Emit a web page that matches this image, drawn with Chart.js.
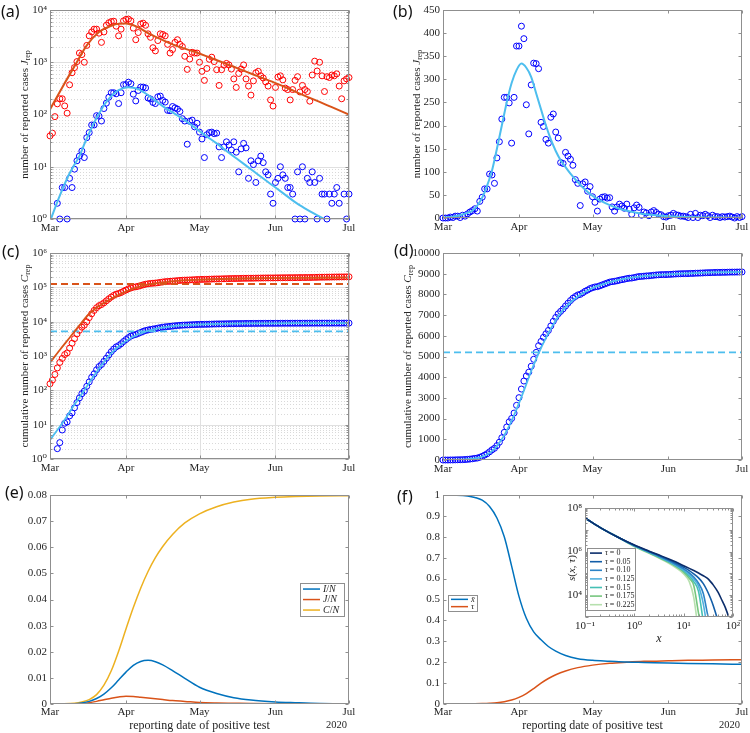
<!DOCTYPE html>
<html>
<head>
<meta charset="utf-8">
<script src="https://cdn.jsdelivr.net/npm/chart.js@4.4.1/dist/chart.umd.min.js"></script>
<style>
  body { margin: 0; background: #fff; width: 750px; height: 733px; position: relative; overflow: hidden; }
  canvas { position: absolute; }
  .tag { position: absolute; font: 16px 'Noto Sans', 'Open Sans', sans-serif; line-height: 16px; color: #111; }
</style>
</head>
<body>
<canvas id="pa" width="375" height="240" style="left:0;top:0"></canvas>
<canvas id="pb" width="375" height="240" style="left:375px;top:0"></canvas>
<canvas id="pc" width="375" height="240" style="left:0;top:240px"></canvas>
<canvas id="pd" width="375" height="240" style="left:375px;top:240px"></canvas>
<canvas id="pe" width="375" height="253" style="left:0;top:480px"></canvas>
<canvas id="pf" width="375" height="253" style="left:375px;top:480px"></canvas>
<canvas id="pin" width="195" height="150" style="left:545px;top:500px"></canvas>
<div class="tag" style="left:1px;top:3px">(a)</div>
<div class="tag" style="left:393px;top:3px">(b)</div>
<div class="tag" style="left:2px;top:243px">(c)</div>
<div class="tag" style="left:394px;top:242px">(d)</div>
<div class="tag" style="left:5px;top:484px">(e)</div>
<div class="tag" style="left:397px;top:488px">(f)</div>
<script>
// --- data (day 0 = 1 March 2020) ---
const monthTicks = [0, 31, 61, 92, 122];
const monthLabels = ['Mar', 'Apr', 'May', 'Jun', 'Jul'];
const days = Array.from({length: 123}, (_, i) => i);

const redDaily = [39, 44, 91, 160, 200, 200, 146, 106, 370, 630,
  790, 1030, 1500, 1400, 1000, 2100, 3200, 3800, 4300, 4300,
  3600, 2400, 3800, 5100, 5700, 6000, 6100, 4900, 3200, 4300,
  6200, 6600, 6700, 6200, 4500, 2700, 3700, 5400, 5600, 5100,
  3500, 3000, 1900, 1650, 2600, 3500, 3400, 3200, 2200, 1500,
  1750, 2400, 2700, 2200, 2000, 1300, 730, 1150, 1550, 1500,
  1500, 1000, 670, 450, 760, 1140, 1250, 1030, 720, 360,
  720, 880, 950, 890, 740, 480, 330, 610, 740, 890,
  480, 350, 235, 440, 630, 670, 550, 500, 420, 350,
  190, 145, 330, 520, 550, 460, 320, 300, 190, 300,
  450, 530, 270, 360, 300, 275, 180, 570, 1050, 680,
  1000, 550, 275, 530, 510, 570, 550, 600, 350, 200,
  440, 480, 510];

const blueDaily = [0, 0, 0, 2, 1, 4, 4, 1, 6, 4,
  9, 13, 16, 20, 15, 36, 45, 63, 63, 95,
  93, 75, 130, 165, 214, 261, 261, 249, 162, 261,
  372, 372, 415, 388, 245, 182, 288, 335, 334, 323,
  207, 198, 170, 162, 218, 225, 186, 173, 120, 118,
  142, 134, 127, 114, 83, 75, 27, 74, 78, 58,
  68, 46, 34, 15, 41, 45, 46, 43, 44, 24,
  15, 24, 30, 26, 21, 30, 19, 8, 22, 28,
  23, 6, 13, 11, 5, 13, 16, 12, 8, 7,
  3, 2, 5, 6, 10, 7, 6, 4, 4, 3,
  1, 8, 1, 10, 1, 6, 5, 8, 5, 1,
  6, 3, 3, 1, 3, 2, 3, 4, 2, 0,
  3, 1, 3];

const redCum = [155, 199, 290, 450, 650, 850, 1100, 1230, 1700, 2350,
  3200, 4400, 5600, 6900, 7900, 9922, 13122, 16922, 21222, 25522,
  29122, 31522, 35322, 40422, 46122, 52122, 58222, 63122, 66322, 70622,
  76822, 83422, 90122, 96322, 100822, 103522, 107222, 112622, 118222, 123322,
  126822, 129822, 131722, 133372, 135972, 139472, 142872, 146072, 148272, 149772,
  151522, 153922, 156622, 158822, 160822, 162122, 162852, 164002, 165552, 167052,
  168552, 169552, 170222, 170672, 171432, 172572, 173822, 174852, 175572, 175932,
  176652, 177532, 178482, 179372, 180112, 180592, 180922, 181532, 182272, 183162,
  183642, 183992, 184227, 184667, 185297, 185967, 186517, 187017, 187437, 187787,
  187977, 188122, 188452, 188972, 189522, 189982, 190302, 190602, 190792, 191092,
  191542, 192072, 192342, 192702, 193002, 193277, 193457, 194027, 195077, 195757,
  196757, 197307, 197582, 198112, 198622, 199192, 199742, 200342, 200692, 200892,
  201332, 201812, 202322];

const blueCum = [0, 0, 0, 2, 3, 7, 11, 12, 18, 22,
  31, 44, 60, 80, 95, 131, 176, 239, 302, 397,
  490, 565, 695, 860, 1074, 1335, 1596, 1845, 2007, 2268,
  2640, 3012, 3427, 3815, 4060, 4242, 4530, 4865, 5199, 5522,
  5729, 5927, 6097, 6259, 6477, 6702, 6888, 7061, 7181, 7299,
  7441, 7575, 7702, 7816, 7899, 7974, 8001, 8075, 8153, 8211,
  8279, 8325, 8359, 8374, 8415, 8460, 8506, 8549, 8593, 8617,
  8632, 8656, 8686, 8712, 8733, 8763, 8782, 8790, 8812, 8840,
  8863, 8869, 8882, 8893, 8898, 8911, 8927, 8939, 8947, 8954,
  8957, 8959, 8964, 8970, 8980, 8987, 8993, 8997, 9001, 9004,
  9005, 9013, 9014, 9024, 9025, 9031, 9036, 9044, 9049, 9050,
  9056, 9059, 9062, 9063, 9066, 9068, 9071, 9075, 9077, 9077,
  9080, 9081, 9084];

const redFitDays = [0, 5, 10, 15, 20, 25, 28, 31, 34, 37, 40, 45, 50, 55, 60, 65, 70, 75, 80, 85, 90, 95, 100, 105, 110, 115, 122];
const redFit = [125, 330, 840, 2100, 3800, 5000, 5450, 5500, 5100, 4400, 3600, 2800, 2200, 1820, 1520, 1240, 1010, 820, 660, 537, 434, 350, 275, 218, 174, 138, 100];

const blueFitDays = [0, 4, 8, 10, 12, 14, 16, 18, 20, 22, 24, 26, 28, 30, 32, 34, 36, 38, 40, 42, 44, 46, 48, 50, 52, 56, 60, 64, 68, 72, 76, 80, 84, 88, 92, 96, 100, 104, 108, 112, 116, 122];
const blueFit = [0.9, 2.8, 7.5, 11, 16, 27, 44, 70, 103, 150, 200, 250, 292, 320, 334, 325, 305, 270, 235, 200, 170, 145, 125, 110, 96, 72, 52, 38, 28, 20, 14.5, 10.5, 7.6, 5.5, 4.0, 2.9, 2.1, 1.6, 1.25, 1.0, 0.75, 0.5];

const redCumFitDays = [0, 4, 8, 12, 16, 18, 20, 22, 24, 26, 28, 30, 32, 34, 36, 40, 45, 50, 55, 60, 70, 80, 90, 100, 110, 122];
const redCumFit = [640, 1500, 3400, 7800, 17000, 22500, 28500, 35000, 42500, 51000, 60000, 70000, 81000, 92000, 102000, 120000, 137000, 150000, 159000, 166000, 175000, 181000, 185000, 188000, 190000, 192000];

const blueCumFitDays = [0, 3, 6, 9, 12, 15, 18, 21, 24, 27, 30, 33, 36, 39, 42, 45, 48, 51, 55, 60, 65, 70, 75, 80, 90, 100, 110, 122];
const blueCumFit = [3.6, 7, 14, 30, 62, 130, 270, 540, 1000, 1650, 2450, 3350, 4300, 5150, 5900, 6550, 7100, 7500, 7900, 8250, 8480, 8650, 8770, 8860, 8960, 9020, 9060, 9090];

const redLevel = 125000;
const blueLevel = 5200;

const modelDays = [0, 5, 10, 13, 16, 19, 22, 25, 28, 31, 34, 37, 40, 43, 46, 50, 55, 61, 68, 75, 82, 92, 100, 110, 122];
const infectedShare = [0, 0.00003, 0.0001, 0.0004, 0.001, 0.0021, 0.0038, 0.0062, 0.0092, 0.0122, 0.0148, 0.0163, 0.0167, 0.0162, 0.015, 0.0128, 0.0098, 0.0064, 0.004, 0.0024, 0.0015, 0.0008, 0.0005, 0.0002, 0.0001];
const reportedShare = [0, 0.00001, 0.00005, 0.0002, 0.0005, 0.001, 0.0016, 0.0022, 0.0027, 0.003, 0.0029, 0.0026, 0.0023, 0.002, 0.0017, 0.0013, 0.001, 0.0006, 0.0004, 0.0003, 0.0002, 0.0001, 0.00007, 0.00004, 0.00002];
const cumulativeShare = [0, 0.00005, 0.0003, 0.0008, 0.0017, 0.0036, 0.0072, 0.0127, 0.0202, 0.0287, 0.0369, 0.0443, 0.0507, 0.056, 0.0603, 0.0649, 0.0693, 0.0728, 0.0755, 0.0773, 0.0784, 0.0791, 0.0794, 0.0796, 0.0797];
const xbar = [1, 0.999, 0.995, 0.988, 0.975, 0.945, 0.89, 0.8, 0.66, 0.515, 0.41, 0.345, 0.307, 0.275, 0.253, 0.232, 0.217, 0.209, 0.205, 0.201, 0.199, 0.196, 0.194, 0.192, 0.19];
const tau = [0, 0, 0.0003, 0.001, 0.002, 0.0035, 0.006, 0.011, 0.019, 0.032, 0.05, 0.074, 0.1, 0.122, 0.14, 0.158, 0.174, 0.186, 0.195, 0.2, 0.204, 0.207, 0.209, 0.21, 0.212];

// inset: s(x, tau)
const insetX = [0.1, 0.2, 0.5, 1, 2, 3, 5, 7, 10, 13, 16, 20, 25, 30, 35, 40, 50, 60, 70, 85, 100];
const tauLabels = ['0', '0.05', '0.10', '0.125', '0.15', '0.175', '0.225'];
const sTau0 = [3.5e7, 1.3e7, 4.2e6, 2.0e6, 1.05e6, 7.3e5, 4.6e5, 3.3e5, 2.25e5, 1.7e5, 1.35e5, 1.05e5, 7.8e4, 6.0e4, 4.2e4, 2.9e4, 1.35e4, 5.7e3, 2.7e3, 750, 180];
const sTau005 = [3.5e7, 1.3e7, 4.2e6, 1.95e6, 1.0e6, 6.9e5, 4.2e5, 2.9e5, 1.9e5, 1.35e5, 9.5e4, 6.2e4, 3.4e4, 1.6e4, 7.2e3, 3.2e3, 600, 100, null, null, null];
const sTau010 = [3.5e7, 1.3e7, 4.2e6, 1.9e6, 9.6e5, 6.5e5, 3.8e5, 2.55e5, 1.6e5, 1.05e5, 6.8e4, 3.6e4, 1.2e4, 1.6e3, 300, null, null, null, null, null, null];
const sTau0125 = [3.5e7, 1.3e7, 4.2e6, 1.85e6, 9.3e5, 6.2e5, 3.6e5, 2.35e5, 1.45e5, 9e4, 5.5e4, 2.6e4, 4e3, 300, null, null, null, null, null, null, null];
const sTau015 = [3.5e7, 1.3e7, 4.2e6, 1.8e6, 9e5, 5.9e5, 3.4e5, 2.2e5, 1.3e5, 7.5e4, 4.2e4, 1.5e4, 600, null, null, null, null, null, null, null, null];
const sTau0175 = [3.5e7, 1.3e7, 4.2e6, 1.75e6, 8.7e5, 5.6e5, 3.2e5, 2.05e5, 1.15e5, 6e4, 2.8e4, 1.5e3, 100, null, null, null, null, null, null, null, null];
const sTau0225 = [3.5e7, 1.3e7, 4.2e6, 1.7e6, 8.3e5, 5.3e5, 2.9e5, 1.8e5, 9.5e4, 4.2e4, 8e3, 200, null, null, null, null, null, null, null, null, null];
const insetCurves = [sTau0, sTau005, sTau010, sTau0125, sTau015, sTau0175, sTau0225];
const insetColors = ['#0b2d6b', '#135ea8', '#2b83c6', '#52b0de', '#45c0b4', '#76c67e', '#b6e0ae'];

// --- styles ---
const ink = '#262626';
const frameGray = '#8f8f8f';
const serif = "'Liberation Serif', 'DejaVu Serif', serif";
const red = '#ff0000', blue = '#0000ff', orange = '#d95319', cyan = '#4dbeee', matBlue = '#0072bd', yellow = '#edb120';
const tickFont = {family: serif, size: 11};
const sup = {'-': '⁻', '0': '⁰', '1': '¹', '2': '²', '3': '³', '4': '⁴', '5': '⁵', '6': '⁶', '7': '⁷', '8': '⁸', '9': '⁹'};
const pow10 = e => '10' + String(e).split('').map(c => sup[c]).join('');

function f(size, style) { return (style ? style + ' ' : '') + size + "px " + serif; }

function drawRich(ctx, parts, x, y, align) {
  let w = 0;
  for (const p of parts) { ctx.font = p.font; w += ctx.measureText(p.text).width; }
  let cx = align === 'center' ? x - w / 2 : x;
  ctx.textAlign = 'left';
  ctx.textBaseline = 'middle';
  for (const p of parts) {
    ctx.font = p.font;
    ctx.fillText(p.text, cx, y + (p.dy || 0));
    cx += ctx.measureText(p.text).width;
  }
}

function logMinors(s) {
  const out = [];
  for (let e = Math.floor(Math.log10(s.min)); e < Math.round(Math.log10(s.max)); e++) {
    for (let m = 2; m <= 9; m++) out.push(m * Math.pow(10, e));
  }
  return out;
}

// MATLAB-like box, inward ticks and optional grid
function frame(opt) {
  return {
    id: 'frame',
    beforeDatasetsDraw(chart) {
      if (!opt.grid) return;
      const {ctx, chartArea: a} = chart;
      const x = chart.scales.x, y = chart.scales.y;
      ctx.save();
      ctx.lineWidth = 1;
      ctx.strokeStyle = '#d9d9d9';
      ctx.setLineDash([1, 2]);
      for (const v of logMinors(y)) {
        const p = Math.round(y.getPixelForValue(v)) + 0.5;
        ctx.beginPath(); ctx.moveTo(a.left, p); ctx.lineTo(a.right, p); ctx.stroke();
      }
      ctx.setLineDash([]);
      ctx.strokeStyle = '#e0e0e0';
      for (const t of x.ticks) {
        const p = Math.round(x.getPixelForValue(t.value)) + 0.5;
        ctx.beginPath(); ctx.moveTo(p, a.top); ctx.lineTo(p, a.bottom); ctx.stroke();
      }
      for (const t of y.ticks) {
        const p = Math.round(y.getPixelForValue(t.value)) + 0.5;
        ctx.beginPath(); ctx.moveTo(a.left, p); ctx.lineTo(a.right, p); ctx.stroke();
      }
      ctx.restore();
    },
    afterDatasetsDraw(chart) {
      const {ctx, chartArea: a} = chart;
      const x = chart.scales.x, y = chart.scales.y;
      const L = Math.round(a.left) + 0.5, R = Math.round(a.right) - 0.5;
      const T = Math.round(a.top) + 0.5, B = Math.round(a.bottom) - 0.5;
      ctx.save();
      ctx.strokeStyle = frameGray;
      ctx.lineWidth = 1;
      ctx.strokeRect(L, T, R - L, B - T);
      ctx.beginPath();
      const xt = x.ticks.map(t => [t.value, 3]).concat(x.type === 'logarithmic' ? logMinors(x).map(v => [v, 2]) : []);
      const yt = y.ticks.map(t => [t.value, 3]).concat(y.type === 'logarithmic' ? logMinors(y).map(v => [v, 2]) : []);
      for (const [v, len] of xt) {
        const p = Math.round(x.getPixelForValue(v)) + 0.5;
        ctx.moveTo(p, B); ctx.lineTo(p, B - len);
        ctx.moveTo(p, T); ctx.lineTo(p, T + len);
      }
      for (const [v, len] of yt) {
        const p = Math.round(y.getPixelForValue(v)) + 0.5;
        ctx.moveTo(L, p); ctx.lineTo(L + len, p);
        ctx.moveTo(R, p); ctx.lineTo(R - len, p);
      }
      ctx.stroke();
      if (opt.year) {
        ctx.fillStyle = ink;
        ctx.font = f(10.5);
        ctx.textAlign = 'right';
        ctx.textBaseline = 'middle';
        ctx.fillText('2020', a.right - 2, a.bottom + 21);
      }
      ctx.restore();
    }
  };
}

function yTitle(x, parts, cy) {
  return {
    id: 'ytitle',
    afterDraw(chart) {
      const {ctx, chartArea: a} = chart;
      ctx.save();
      ctx.translate(x, cy === undefined ? (a.top + a.bottom) / 2 : cy);
      ctx.rotate(-Math.PI / 2);
      ctx.fillStyle = ink;
      drawRich(ctx, parts, 0, 0, 'center');
      ctx.restore();
    }
  };
}

function boxLegend(box, rows) {
  return {
    id: 'boxlegend',
    afterDraw(chart) {
      const ctx = chart.ctx;
      ctx.save();
      ctx.fillStyle = '#fff';
      ctx.fillRect(box.left, box.top, box.width, box.height);
      ctx.strokeStyle = frameGray;
      ctx.lineWidth = 1;
      ctx.strokeRect(box.left + 0.5, box.top + 0.5, box.width, box.height);
      rows.forEach((r, i) => {
        const ds = chart.data.datasets[r.index];
        const yy = box.top + box.pad + box.rowH * (i + 0.5);
        ctx.strokeStyle = ds.borderColor;
        ctx.lineWidth = ds.borderWidth;
        ctx.beginPath();
        ctx.moveTo(box.left + 3, yy); ctx.lineTo(box.left + 3 + box.lineLen, yy);
        ctx.stroke();
        ctx.fillStyle = ink;
        drawRich(ctx, r.parts, box.left + 6 + box.lineLen, yy, 'left');
      });
      ctx.restore();
    }
  };
}

function dots(xs, ys, color, log) {
  return {
    data: xs.map((x, i) => ({x: x, y: log && !(ys[i] > 0) ? null : ys[i]})),
    showLine: false,
    borderColor: color,
    pointBorderColor: color,
    pointBackgroundColor: 'rgba(0,0,0,0)',
    pointRadius: 3,
    pointBorderWidth: 1,
    clip: false
  };
}

function line(xs, ys, color, width, dash) {
  return {
    data: xs.map((x, i) => ({x: x, y: ys[i]})),
    borderColor: color,
    borderWidth: width,
    borderDash: dash || [],
    pointRadius: 0,
    cubicInterpolationMode: 'monotone',
    fill: false
  };
}

const noGrid = {display: false, drawTicks: false};

function dateAxis(height, title) {
  return {
    type: 'linear', min: monthTicks[0], max: monthTicks[monthTicks.length - 1],
    grid: noGrid, border: {display: false},
    afterBuildTicks: s => { s.ticks = monthTicks.map(v => ({value: v})); },
    afterFit: s => { s.height = height; s.paddingLeft = 0; s.paddingRight = 0; },
    ticks: {autoSkip: false, maxRotation: 0, padding: title ? 2 : 3, color: ink, font: tickFont,
      callback: (v, i) => monthLabels[i]},
    title: title
      ? {display: true, text: title, color: ink, font: {family: serif, size: 12}, padding: {top: 0, bottom: 0}}
      : {display: false}
  };
}

function logAxis(width, minExp, maxExp, every, horizontal, height) {
  const dec = [];
  for (let e = minExp; e <= maxExp; e++) dec.push(Math.pow(10, e));
  return {
    type: 'logarithmic', min: dec[0], max: dec[dec.length - 1],
    grid: noGrid, border: {display: false},
    afterBuildTicks: s => { s.ticks = dec.map(v => ({value: v})); },
    afterFit: s => {
      if (horizontal) { s.height = height; s.paddingLeft = 0; s.paddingRight = 0; }
      else { s.width = width; s.paddingTop = 0; s.paddingBottom = 0; }
    },
    ticks: {autoSkip: false, maxRotation: 0, padding: 3, color: ink, font: tickFont,
      callback: v => { const e = Math.round(Math.log10(v)); return (maxExp - e) % every === 0 ? pow10(e) : ''; }}
  };
}

function linAxis(width, max, step, fmt) {
  return {
    type: 'linear', min: 0, max: max,
    grid: noGrid, border: {display: false},
    afterFit: s => { s.width = width; s.paddingTop = 0; s.paddingBottom = 0; },
    ticks: {stepSize: step, autoSkip: false, padding: 3, color: ink, font: tickFont, callback: fmt}
  };
}

function options(pad, x, y) {
  return {
    animation: false, responsive: false, devicePixelRatio: 1, events: [],
    layout: {autoPadding: false, padding: {left: 0, bottom: 0, top: pad.top, right: pad.right}},
    plugins: {legend: {display: false}, tooltip: {enabled: false}},
    scales: {x: x, y: y}
  };
}

function repTitle(text, sym) {
  return [{text: text, font: f(11)}, {text: sym, font: f(11, 'italic')}, {text: 'rep', font: f(8), dy: 3}];
}

Chart.defaults.font.family = serif;

// (a) daily reported cases, log scale
new Chart(document.getElementById('pa'), {
  type: 'line',
  data: {datasets: [
    line(redFitDays, redFit, orange, 2),
    line(blueFitDays, blueFit, cyan, 2),
    dots(days, redDaily, red, true),
    dots(days, blueDaily, blue, true)
  ]},
  options: options({top: 10, right: 26}, dateAxis(21), logAxis(50, 0, 4, 1)),
  plugins: [frame({grid: true}), yTitle(25, repTitle('number of reported cases ', 'J'))]
});

// (b) daily reported cases, linear
new Chart(document.getElementById('pb'), {
  type: 'line',
  data: {datasets: [
    line(blueFitDays, blueFit, cyan, 2),
    dots(days, blueDaily, blue, false)
  ]},
  options: options({top: 10, right: 8}, dateAxis(22), linAxis(68, 450, 50, v => String(v))),
  plugins: [frame({grid: false}), yTitle(42, repTitle('number of reported cases ', 'J'))]
});

// (c) cumulative, log scale
new Chart(document.getElementById('pc'), {
  type: 'line',
  data: {datasets: [
    line(redCumFitDays, redCumFit, orange, 1.8),
    line(blueCumFitDays, blueCumFit, cyan, 1.8),
    line([monthTicks[0], monthTicks[4]], [redLevel, redLevel], orange, 1.8, [7, 4]),
    line([monthTicks[0], monthTicks[4]], [blueLevel, blueLevel], cyan, 1.8, [7, 4]),
    dots(days, redCum, red, true),
    dots(days, blueCum, blue, true)
  ]},
  options: options({top: 13, right: 26}, dateAxis(21), logAxis(50, 0, 6, 1)),
  plugins: [frame({grid: true}), yTitle(25, repTitle('cumulative number of reported cases ', 'C'))]
});

// (d) cumulative, linear
new Chart(document.getElementById('pd'), {
  type: 'line',
  data: {datasets: [
    line(blueCumFitDays, blueCumFit, cyan, 1.8),
    line([monthTicks[0], monthTicks[4]], [blueLevel, blueLevel], cyan, 1.8, [7, 4]),
    dots(days, blueCum, blue, false)
  ]},
  options: options({top: 13, right: 8}, dateAxis(20), linAxis(68, 10000, 1000, v => String(v))),
  plugins: [frame({grid: false}), yTitle(33, repTitle('cumulative number of reported cases ', 'C'))]
});

// (e) model compartments
new Chart(document.getElementById('pe'), {
  type: 'line',
  data: {datasets: [
    line(modelDays, infectedShare, matBlue, 1.5),
    line(modelDays, reportedShare, orange, 1.5),
    line(modelDays, cumulativeShare, yellow, 1.5)
  ]},
  options: options({top: 15, right: 26}, dateAxis(29, 'reporting date of positive test'),
    linAxis(50, 0.08, 0.01, v => v === 0 ? '0' : v.toFixed(2))),
  plugins: [
    frame({grid: false, year: true}),
    boxLegend({left: 300, top: 103, width: 44, height: 33, rowH: 10.5, pad: 0.8, lineLen: 17}, [
      {index: 0, parts: [{text: 'I', font: f(10, 'italic')}, {text: '/', font: f(10)}, {text: 'N', font: f(10, 'italic')}]},
      {index: 1, parts: [{text: 'J', font: f(10, 'italic')}, {text: '/', font: f(10)}, {text: 'N', font: f(10, 'italic')}]},
      {index: 2, parts: [{text: 'C', font: f(10, 'italic')}, {text: '/', font: f(10)}, {text: 'N', font: f(10, 'italic')}]}
    ])
  ]
});

// (f) mean and tau
new Chart(document.getElementById('pf'), {
  type: 'line',
  data: {datasets: [
    line(modelDays, xbar, matBlue, 1.5),
    line(modelDays, tau, orange, 1.5)
  ]},
  options: options({top: 15, right: 8}, dateAxis(29, 'reporting date of positive test'),
    linAxis(68, 1, 0.1, v => v === 0 ? '0' : v === 1 ? '1' : v.toFixed(1))),
  plugins: [
    frame({grid: false, year: true}),
    boxLegend({left: 73, top: 115, width: 29, height: 16, rowH: 7.3, pad: 0.7, lineLen: 17}, [
      {index: 0, parts: [{text: 'x̄', font: f(8.5, 'italic')}]},
      {index: 1, parts: [{text: 'τ', font: f(8.5, 'italic')}]}
    ])
  ]
});

// (f) inset
new Chart(document.getElementById('pin'), {
  type: 'line',
  data: {datasets: insetCurves.map((c, k) => line(insetX, c, insetColors[k], 1.6))},
  options: (() => {
    const o = options({top: 8, right: 7}, logAxis(0, -1, 2, 1, true, 33), logAxis(40, 3, 8, 2));
    o.scales.x.title = {display: true, text: 'x', color: ink, font: {family: serif, size: 12, style: 'italic'}, padding: {top: 0, bottom: 4}};
    return o;
  })(),
  plugins: [
    frame({grid: false}),
    yTitle(27, [{text: 's', font: f(11, 'italic')}, {text: '(', font: f(11)}, {text: 'x', font: f(11, 'italic')},
      {text: ', ', font: f(11)}, {text: 'τ', font: f(11, 'italic')}, {text: ')', font: f(11)}], 68),
    boxLegend({left: 42, top: 48, width: 48, height: 62, rowH: 8.6, pad: 0.8, lineLen: 12},
      tauLabels.map((t, k) => ({index: k, parts: [{text: 'τ', font: f(8, 'italic')}, {text: ' = ' + t, font: f(8)}]})))
  ]
});
</script>
</body>
</html>
